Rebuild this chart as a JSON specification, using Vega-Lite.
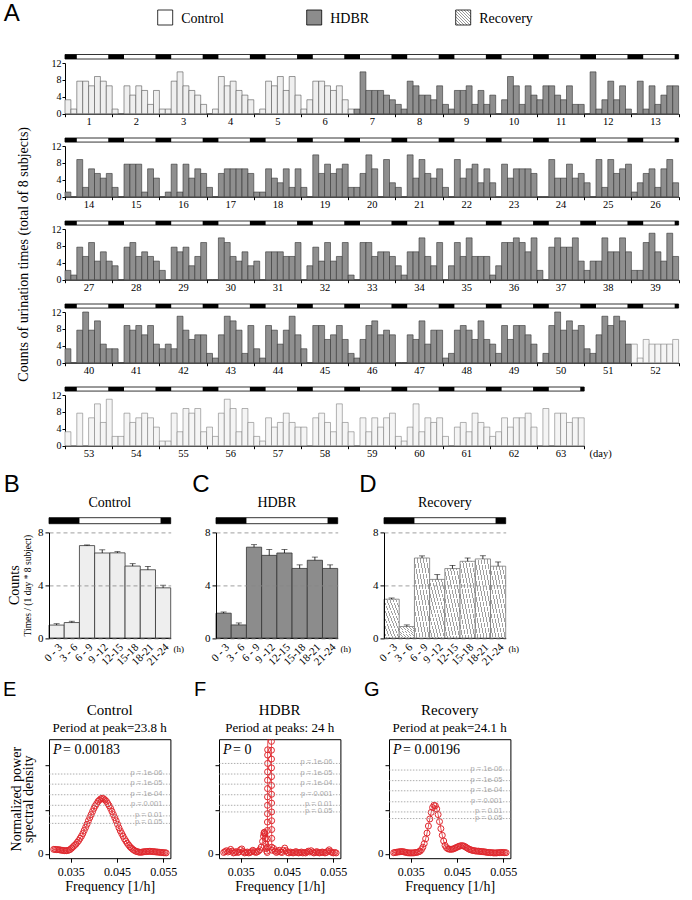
{
"$schema":"https://vega.github.io/schema/vega-lite/v6.json",
"background":"white",
"padding":{"left":3,"top":0,"right":2,"bottom":0},
"config":{"view":{"stroke":null},"font":"Liberation Serif",
"axis":{"labelFont":"Liberation Serif","titleFont":"Liberation Serif","labelColor":"#000","titleColor":"#000","domainColor":"#000","tickColor":"#000","titleFontWeight":"normal","grid":false},
"title":{"font":"Liberation Serif","fontWeight":"normal","color":"#000","subtitleFont":"Liberation Serif","subtitleColor":"#000"},
"text":{"font":"Liberation Serif","color":"#000"}},
"datasets":{
"a":[
{"d":1,"b":1,"v":3.3,"p":"C"},{"d":1,"b":2,"v":1.1,"p":"C"},{"d":1,"b":3,"v":7.7,"p":"C"},{"d":1,"b":4,"v":7.7,"p":"C"},{"d":1,"b":5,"v":6.6,"p":"C"},{"d":1,"b":6,"v":8.8,"p":"C"},{"d":1,"b":7,"v":7.7,"p":"C"},{"d":1,"b":8,"v":6.6,"p":"C"},
{"d":2,"b":1,"v":1.1,"p":"C"},{"d":2,"b":2,"v":0,"p":"C"},{"d":2,"b":3,"v":6.6,"p":"C"},{"d":2,"b":4,"v":4.4,"p":"C"},{"d":2,"b":5,"v":6.6,"p":"C"},{"d":2,"b":6,"v":5.5,"p":"C"},{"d":2,"b":7,"v":2.2,"p":"C"},{"d":2,"b":8,"v":5.5,"p":"C"},
{"d":3,"b":1,"v":1.1,"p":"C"},{"d":3,"b":2,"v":1.1,"p":"C"},{"d":3,"b":3,"v":7.7,"p":"C"},{"d":3,"b":4,"v":9.9,"p":"C"},{"d":3,"b":5,"v":6.6,"p":"C"},{"d":3,"b":6,"v":5.5,"p":"C"},{"d":3,"b":7,"v":4.4,"p":"C"},{"d":3,"b":8,"v":2.2,"p":"C"},
{"d":4,"b":1,"v":0,"p":"C"},{"d":4,"b":2,"v":1.1,"p":"C"},{"d":4,"b":3,"v":8.8,"p":"C"},{"d":4,"b":4,"v":6.6,"p":"C"},{"d":4,"b":5,"v":7.7,"p":"C"},{"d":4,"b":6,"v":5.5,"p":"C"},{"d":4,"b":7,"v":4.4,"p":"C"},{"d":4,"b":8,"v":3.3,"p":"C"},
{"d":5,"b":1,"v":0,"p":"C"},{"d":5,"b":2,"v":1.1,"p":"C"},{"d":5,"b":3,"v":7.7,"p":"C"},{"d":5,"b":4,"v":6.6,"p":"C"},{"d":5,"b":5,"v":8.8,"p":"C"},{"d":5,"b":6,"v":5.5,"p":"C"},{"d":5,"b":7,"v":8.8,"p":"C"},{"d":5,"b":8,"v":4.4,"p":"C"},
{"d":6,"b":1,"v":1.1,"p":"C"},{"d":6,"b":2,"v":3.3,"p":"C"},{"d":6,"b":3,"v":7.7,"p":"C"},{"d":6,"b":4,"v":7.7,"p":"C"},{"d":6,"b":5,"v":6.6,"p":"C"},{"d":6,"b":6,"v":5.5,"p":"C"},{"d":6,"b":7,"v":6.6,"p":"C"},{"d":6,"b":8,"v":3.3,"p":"C"},
{"d":7,"b":1,"v":1.1,"p":"C"},{"d":7,"b":2,"v":1.1,"p":"H"},{"d":7,"b":3,"v":9.9,"p":"H"},{"d":7,"b":4,"v":5.5,"p":"H"},{"d":7,"b":5,"v":5.5,"p":"H"},{"d":7,"b":6,"v":5.5,"p":"H"},{"d":7,"b":7,"v":4.4,"p":"H"},{"d":7,"b":8,"v":3.3,"p":"H"},
{"d":8,"b":1,"v":2.2,"p":"H"},{"d":8,"b":2,"v":1.1,"p":"H"},{"d":8,"b":3,"v":7.7,"p":"H"},{"d":8,"b":4,"v":6.6,"p":"H"},{"d":8,"b":5,"v":4.4,"p":"H"},{"d":8,"b":6,"v":4.4,"p":"H"},{"d":8,"b":7,"v":3.3,"p":"H"},{"d":8,"b":8,"v":6.6,"p":"H"},
{"d":9,"b":1,"v":2.2,"p":"H"},{"d":9,"b":2,"v":1.1,"p":"H"},{"d":9,"b":3,"v":5.5,"p":"H"},{"d":9,"b":4,"v":5.5,"p":"H"},{"d":9,"b":5,"v":6.6,"p":"H"},{"d":9,"b":6,"v":2.2,"p":"H"},{"d":9,"b":7,"v":5.5,"p":"H"},{"d":9,"b":8,"v":2.2,"p":"H"},
{"d":10,"b":1,"v":4.4,"p":"H"},{"d":10,"b":2,"v":0,"p":"H"},{"d":10,"b":3,"v":3.3,"p":"H"},{"d":10,"b":4,"v":8.8,"p":"H"},{"d":10,"b":5,"v":6.6,"p":"H"},{"d":10,"b":6,"v":2.2,"p":"H"},{"d":10,"b":7,"v":6.6,"p":"H"},{"d":10,"b":8,"v":4.4,"p":"H"},
{"d":11,"b":1,"v":3.3,"p":"H"},{"d":11,"b":2,"v":6.6,"p":"H"},{"d":11,"b":3,"v":6.6,"p":"H"},{"d":11,"b":4,"v":4.4,"p":"H"},{"d":11,"b":5,"v":3.3,"p":"H"},{"d":11,"b":6,"v":6.6,"p":"H"},{"d":11,"b":7,"v":2.2,"p":"H"},{"d":11,"b":8,"v":2.2,"p":"H"},
{"d":12,"b":1,"v":0,"p":"H"},{"d":12,"b":2,"v":9.9,"p":"H"},{"d":12,"b":3,"v":1.1,"p":"H"},{"d":12,"b":4,"v":3.3,"p":"H"},{"d":12,"b":5,"v":7.7,"p":"H"},{"d":12,"b":6,"v":3.3,"p":"H"},{"d":12,"b":7,"v":6.6,"p":"H"},{"d":12,"b":8,"v":1.1,"p":"H"},
{"d":13,"b":1,"v":0,"p":"H"},{"d":13,"b":2,"v":7.7,"p":"H"},{"d":13,"b":3,"v":1.1,"p":"H"},{"d":13,"b":4,"v":6.6,"p":"H"},{"d":13,"b":5,"v":2.2,"p":"H"},{"d":13,"b":6,"v":4.4,"p":"H"},{"d":13,"b":7,"v":6.6,"p":"H"},{"d":13,"b":8,"v":6.6,"p":"H"},
{"d":14,"b":1,"v":1.1,"p":"H"},{"d":14,"b":2,"v":0,"p":"H"},{"d":14,"b":3,"v":8.8,"p":"H"},{"d":14,"b":4,"v":2.2,"p":"H"},{"d":14,"b":5,"v":6.6,"p":"H"},{"d":14,"b":6,"v":5.5,"p":"H"},{"d":14,"b":7,"v":4.4,"p":"H"},{"d":14,"b":8,"v":5.5,"p":"H"},
{"d":15,"b":1,"v":2.2,"p":"H"},{"d":15,"b":2,"v":0,"p":"H"},{"d":15,"b":3,"v":7.7,"p":"H"},{"d":15,"b":4,"v":7.7,"p":"H"},{"d":15,"b":5,"v":7.7,"p":"H"},{"d":15,"b":6,"v":1.1,"p":"H"},{"d":15,"b":7,"v":6.6,"p":"H"},{"d":15,"b":8,"v":4.4,"p":"H"},
{"d":16,"b":1,"v":0,"p":"H"},{"d":16,"b":2,"v":1.1,"p":"H"},{"d":16,"b":3,"v":7.7,"p":"H"},{"d":16,"b":4,"v":1.1,"p":"H"},{"d":16,"b":5,"v":7.7,"p":"H"},{"d":16,"b":6,"v":4.4,"p":"H"},{"d":16,"b":7,"v":6.6,"p":"H"},{"d":16,"b":8,"v":5.5,"p":"H"},
{"d":17,"b":1,"v":2.2,"p":"H"},{"d":17,"b":2,"v":0,"p":"H"},{"d":17,"b":3,"v":5.5,"p":"H"},{"d":17,"b":4,"v":6.6,"p":"H"},{"d":17,"b":5,"v":6.6,"p":"H"},{"d":17,"b":6,"v":6.6,"p":"H"},{"d":17,"b":7,"v":6.6,"p":"H"},{"d":17,"b":8,"v":5.5,"p":"H"},
{"d":18,"b":1,"v":1.1,"p":"H"},{"d":18,"b":2,"v":1.1,"p":"H"},{"d":18,"b":3,"v":6.6,"p":"H"},{"d":18,"b":4,"v":4.4,"p":"H"},{"d":18,"b":5,"v":3.3,"p":"H"},{"d":18,"b":6,"v":6.6,"p":"H"},{"d":18,"b":7,"v":2.2,"p":"H"},{"d":18,"b":8,"v":6.6,"p":"H"},
{"d":19,"b":1,"v":2.2,"p":"H"},{"d":19,"b":2,"v":0,"p":"H"},{"d":19,"b":3,"v":9.9,"p":"H"},{"d":19,"b":4,"v":5.5,"p":"H"},{"d":19,"b":5,"v":7.7,"p":"H"},{"d":19,"b":6,"v":5.5,"p":"H"},{"d":19,"b":7,"v":6.6,"p":"H"},{"d":19,"b":8,"v":7.7,"p":"H"},
{"d":20,"b":1,"v":2.2,"p":"H"},{"d":20,"b":2,"v":2.2,"p":"H"},{"d":20,"b":3,"v":5.5,"p":"H"},{"d":20,"b":4,"v":9.9,"p":"H"},{"d":20,"b":5,"v":6.6,"p":"H"},{"d":20,"b":6,"v":0,"p":"H"},{"d":20,"b":7,"v":8.8,"p":"H"},{"d":20,"b":8,"v":3.3,"p":"H"},
{"d":21,"b":1,"v":2.2,"p":"H"},{"d":21,"b":2,"v":0,"p":"H"},{"d":21,"b":3,"v":9.9,"p":"H"},{"d":21,"b":4,"v":4.4,"p":"H"},{"d":21,"b":5,"v":8.8,"p":"H"},{"d":21,"b":6,"v":5.5,"p":"H"},{"d":21,"b":7,"v":4.4,"p":"H"},{"d":21,"b":8,"v":6.6,"p":"H"},
{"d":22,"b":1,"v":2.2,"p":"H"},{"d":22,"b":2,"v":0,"p":"H"},{"d":22,"b":3,"v":8.8,"p":"H"},{"d":22,"b":4,"v":4.4,"p":"H"},{"d":22,"b":5,"v":6.6,"p":"H"},{"d":22,"b":6,"v":7.7,"p":"H"},{"d":22,"b":7,"v":3.3,"p":"H"},{"d":22,"b":8,"v":6.6,"p":"H"},
{"d":23,"b":1,"v":3.3,"p":"H"},{"d":23,"b":2,"v":0,"p":"H"},{"d":23,"b":3,"v":7.7,"p":"H"},{"d":23,"b":4,"v":4.4,"p":"H"},{"d":23,"b":5,"v":6.6,"p":"H"},{"d":23,"b":6,"v":6.6,"p":"H"},{"d":23,"b":7,"v":6.6,"p":"H"},{"d":23,"b":8,"v":5.5,"p":"H"},
{"d":24,"b":1,"v":0,"p":"H"},{"d":24,"b":2,"v":0,"p":"H"},{"d":24,"b":3,"v":8.8,"p":"H"},{"d":24,"b":4,"v":4.4,"p":"H"},{"d":24,"b":5,"v":4.4,"p":"H"},{"d":24,"b":6,"v":7.7,"p":"H"},{"d":24,"b":7,"v":4.4,"p":"H"},{"d":24,"b":8,"v":5.5,"p":"H"},
{"d":25,"b":1,"v":3.3,"p":"H"},{"d":25,"b":2,"v":0,"p":"H"},{"d":25,"b":3,"v":8.8,"p":"H"},{"d":25,"b":4,"v":2.2,"p":"H"},{"d":25,"b":5,"v":8.8,"p":"H"},{"d":25,"b":6,"v":5.5,"p":"H"},{"d":25,"b":7,"v":6.6,"p":"H"},{"d":25,"b":8,"v":7.7,"p":"H"},
{"d":26,"b":1,"v":1.1,"p":"H"},{"d":26,"b":2,"v":3.3,"p":"H"},{"d":26,"b":3,"v":5.5,"p":"H"},{"d":26,"b":4,"v":6.6,"p":"H"},{"d":26,"b":5,"v":2.2,"p":"H"},{"d":26,"b":6,"v":6.6,"p":"H"},{"d":26,"b":7,"v":8.8,"p":"H"},{"d":26,"b":8,"v":3.3,"p":"H"},
{"d":27,"b":1,"v":2.2,"p":"H"},{"d":27,"b":2,"v":1.1,"p":"H"},{"d":27,"b":3,"v":7.7,"p":"H"},{"d":27,"b":4,"v":5.5,"p":"H"},{"d":27,"b":5,"v":8.8,"p":"H"},{"d":27,"b":6,"v":4.4,"p":"H"},{"d":27,"b":7,"v":6.6,"p":"H"},{"d":27,"b":8,"v":4.4,"p":"H"},
{"d":28,"b":1,"v":3.3,"p":"H"},{"d":28,"b":2,"v":0,"p":"H"},{"d":28,"b":3,"v":7.7,"p":"H"},{"d":28,"b":4,"v":8.8,"p":"H"},{"d":28,"b":5,"v":5.5,"p":"H"},{"d":28,"b":6,"v":6.6,"p":"H"},{"d":28,"b":7,"v":5.5,"p":"H"},{"d":28,"b":8,"v":4.4,"p":"H"},
{"d":29,"b":1,"v":2.2,"p":"H"},{"d":29,"b":2,"v":0,"p":"H"},{"d":29,"b":3,"v":7.7,"p":"H"},{"d":29,"b":4,"v":6.6,"p":"H"},{"d":29,"b":5,"v":7.7,"p":"H"},{"d":29,"b":6,"v":3.3,"p":"H"},{"d":29,"b":7,"v":5.5,"p":"H"},{"d":29,"b":8,"v":8.8,"p":"H"},
{"d":30,"b":1,"v":0,"p":"H"},{"d":30,"b":2,"v":0,"p":"H"},{"d":30,"b":3,"v":9.9,"p":"H"},{"d":30,"b":4,"v":8.8,"p":"H"},{"d":30,"b":5,"v":5.5,"p":"H"},{"d":30,"b":6,"v":4.4,"p":"H"},{"d":30,"b":7,"v":6.6,"p":"H"},{"d":30,"b":8,"v":3.3,"p":"H"},
{"d":31,"b":1,"v":4.4,"p":"H"},{"d":31,"b":2,"v":0,"p":"H"},{"d":31,"b":3,"v":6.6,"p":"H"},{"d":31,"b":4,"v":6.6,"p":"H"},{"d":31,"b":5,"v":6.6,"p":"H"},{"d":31,"b":6,"v":5.5,"p":"H"},{"d":31,"b":7,"v":5.5,"p":"H"},{"d":31,"b":8,"v":8.8,"p":"H"},
{"d":32,"b":1,"v":0,"p":"H"},{"d":32,"b":2,"v":3.3,"p":"H"},{"d":32,"b":3,"v":7.7,"p":"H"},{"d":32,"b":4,"v":4.4,"p":"H"},{"d":32,"b":5,"v":8.8,"p":"H"},{"d":32,"b":6,"v":4.4,"p":"H"},{"d":32,"b":7,"v":5.5,"p":"H"},{"d":32,"b":8,"v":8.8,"p":"H"},
{"d":33,"b":1,"v":1.1,"p":"H"},{"d":33,"b":2,"v":0,"p":"H"},{"d":33,"b":3,"v":8.8,"p":"H"},{"d":33,"b":4,"v":8.8,"p":"H"},{"d":33,"b":5,"v":5.5,"p":"H"},{"d":33,"b":6,"v":6.6,"p":"H"},{"d":33,"b":7,"v":6.6,"p":"H"},{"d":33,"b":8,"v":5.5,"p":"H"},
{"d":34,"b":1,"v":3.3,"p":"H"},{"d":34,"b":2,"v":1.1,"p":"H"},{"d":34,"b":3,"v":6.6,"p":"H"},{"d":34,"b":4,"v":6.6,"p":"H"},{"d":34,"b":5,"v":9.9,"p":"H"},{"d":34,"b":6,"v":5.5,"p":"H"},{"d":34,"b":7,"v":3.3,"p":"H"},{"d":34,"b":8,"v":8.8,"p":"H"},
{"d":35,"b":1,"v":0,"p":"H"},{"d":35,"b":2,"v":3.3,"p":"H"},{"d":35,"b":3,"v":8.8,"p":"H"},{"d":35,"b":4,"v":5.5,"p":"H"},{"d":35,"b":5,"v":9.9,"p":"H"},{"d":35,"b":6,"v":5.5,"p":"H"},{"d":35,"b":7,"v":5.5,"p":"H"},{"d":35,"b":8,"v":5.5,"p":"H"},
{"d":36,"b":1,"v":1.1,"p":"H"},{"d":36,"b":2,"v":3.3,"p":"H"},{"d":36,"b":3,"v":8.8,"p":"H"},{"d":36,"b":4,"v":8.8,"p":"H"},{"d":36,"b":5,"v":9.9,"p":"H"},{"d":36,"b":6,"v":8.8,"p":"H"},{"d":36,"b":7,"v":6.6,"p":"H"},{"d":36,"b":8,"v":9.9,"p":"H"},
{"d":37,"b":1,"v":2.2,"p":"H"},{"d":37,"b":2,"v":0,"p":"H"},{"d":37,"b":3,"v":7.7,"p":"H"},{"d":37,"b":4,"v":9.9,"p":"H"},{"d":37,"b":5,"v":7.7,"p":"H"},{"d":37,"b":6,"v":7.7,"p":"H"},{"d":37,"b":7,"v":9.9,"p":"H"},{"d":37,"b":8,"v":4.4,"p":"H"},
{"d":38,"b":1,"v":2.2,"p":"H"},{"d":38,"b":2,"v":4.4,"p":"H"},{"d":38,"b":3,"v":4.4,"p":"H"},{"d":38,"b":4,"v":9.9,"p":"H"},{"d":38,"b":5,"v":6.6,"p":"H"},{"d":38,"b":6,"v":6.6,"p":"H"},{"d":38,"b":7,"v":9.9,"p":"H"},{"d":38,"b":8,"v":6.6,"p":"H"},
{"d":39,"b":1,"v":2.2,"p":"H"},{"d":39,"b":2,"v":2.2,"p":"H"},{"d":39,"b":3,"v":8.8,"p":"H"},{"d":39,"b":4,"v":11,"p":"H"},{"d":39,"b":5,"v":6.6,"p":"H"},{"d":39,"b":6,"v":4.4,"p":"H"},{"d":39,"b":7,"v":11,"p":"H"},{"d":39,"b":8,"v":5.5,"p":"H"},
{"d":40,"b":1,"v":3.3,"p":"H"},{"d":40,"b":2,"v":0,"p":"H"},{"d":40,"b":3,"v":7.7,"p":"H"},{"d":40,"b":4,"v":12,"p":"H"},{"d":40,"b":5,"v":7.7,"p":"H"},{"d":40,"b":6,"v":9.9,"p":"H"},{"d":40,"b":7,"v":4.4,"p":"H"},{"d":40,"b":8,"v":3.3,"p":"H"},
{"d":41,"b":1,"v":3.3,"p":"H"},{"d":41,"b":2,"v":0,"p":"H"},{"d":41,"b":3,"v":8.8,"p":"H"},{"d":41,"b":4,"v":7.7,"p":"H"},{"d":41,"b":5,"v":8.8,"p":"H"},{"d":41,"b":6,"v":6.6,"p":"H"},{"d":41,"b":7,"v":8.8,"p":"H"},{"d":41,"b":8,"v":4.4,"p":"H"},
{"d":42,"b":1,"v":3.3,"p":"H"},{"d":42,"b":2,"v":4.4,"p":"H"},{"d":42,"b":3,"v":3.3,"p":"H"},{"d":42,"b":4,"v":11,"p":"H"},{"d":42,"b":5,"v":7.7,"p":"H"},{"d":42,"b":6,"v":5.5,"p":"H"},{"d":42,"b":7,"v":6.6,"p":"H"},{"d":42,"b":8,"v":6.6,"p":"H"},
{"d":43,"b":1,"v":2.2,"p":"H"},{"d":43,"b":2,"v":1.1,"p":"H"},{"d":43,"b":3,"v":6.6,"p":"H"},{"d":43,"b":4,"v":11,"p":"H"},{"d":43,"b":5,"v":9.9,"p":"H"},{"d":43,"b":6,"v":7.7,"p":"H"},{"d":43,"b":7,"v":2.2,"p":"H"},{"d":43,"b":8,"v":8.8,"p":"H"},
{"d":44,"b":1,"v":3.3,"p":"H"},{"d":44,"b":2,"v":1.1,"p":"H"},{"d":44,"b":3,"v":8.8,"p":"H"},{"d":44,"b":4,"v":7.7,"p":"H"},{"d":44,"b":5,"v":4.4,"p":"H"},{"d":44,"b":6,"v":7.7,"p":"H"},{"d":44,"b":7,"v":11,"p":"H"},{"d":44,"b":8,"v":6.6,"p":"H"},
{"d":45,"b":1,"v":3.3,"p":"H"},{"d":45,"b":2,"v":0,"p":"H"},{"d":45,"b":3,"v":8.8,"p":"H"},{"d":45,"b":4,"v":8.8,"p":"H"},{"d":45,"b":5,"v":5.5,"p":"H"},{"d":45,"b":6,"v":6.6,"p":"H"},{"d":45,"b":7,"v":8.8,"p":"H"},{"d":45,"b":8,"v":5.5,"p":"H"},
{"d":46,"b":1,"v":2.2,"p":"H"},{"d":46,"b":2,"v":1.1,"p":"H"},{"d":46,"b":3,"v":5.5,"p":"H"},{"d":46,"b":4,"v":8.8,"p":"H"},{"d":46,"b":5,"v":9.9,"p":"H"},{"d":46,"b":6,"v":6.6,"p":"H"},{"d":46,"b":7,"v":7.7,"p":"H"},{"d":46,"b":8,"v":6.6,"p":"H"},
{"d":47,"b":1,"v":0,"p":"H"},{"d":47,"b":2,"v":0,"p":"H"},{"d":47,"b":3,"v":6.6,"p":"H"},{"d":47,"b":4,"v":5.5,"p":"H"},{"d":47,"b":5,"v":9.9,"p":"H"},{"d":47,"b":6,"v":4.4,"p":"H"},{"d":47,"b":7,"v":7.7,"p":"H"},{"d":47,"b":8,"v":7.7,"p":"H"},
{"d":48,"b":1,"v":1.1,"p":"H"},{"d":48,"b":2,"v":2.2,"p":"H"},{"d":48,"b":3,"v":7.7,"p":"H"},{"d":48,"b":4,"v":8.8,"p":"H"},{"d":48,"b":5,"v":7.7,"p":"H"},{"d":48,"b":6,"v":5.5,"p":"H"},{"d":48,"b":7,"v":9.9,"p":"H"},{"d":48,"b":8,"v":5.5,"p":"H"},
{"d":49,"b":1,"v":4.4,"p":"H"},{"d":49,"b":2,"v":2.2,"p":"H"},{"d":49,"b":3,"v":8.8,"p":"H"},{"d":49,"b":4,"v":5.5,"p":"H"},{"d":49,"b":5,"v":8.8,"p":"H"},{"d":49,"b":6,"v":8.8,"p":"H"},{"d":49,"b":7,"v":6.6,"p":"H"},{"d":49,"b":8,"v":4.4,"p":"H"},
{"d":50,"b":1,"v":0,"p":"H"},{"d":50,"b":2,"v":2.2,"p":"H"},{"d":50,"b":3,"v":8.8,"p":"H"},{"d":50,"b":4,"v":12,"p":"H"},{"d":50,"b":5,"v":7.7,"p":"H"},{"d":50,"b":6,"v":9.9,"p":"H"},{"d":50,"b":7,"v":7.7,"p":"H"},{"d":50,"b":8,"v":8.8,"p":"H"},
{"d":51,"b":1,"v":3.3,"p":"H"},{"d":51,"b":2,"v":2.2,"p":"H"},{"d":51,"b":3,"v":6.6,"p":"H"},{"d":51,"b":4,"v":11,"p":"H"},{"d":51,"b":5,"v":8.8,"p":"H"},{"d":51,"b":6,"v":11,"p":"H"},{"d":51,"b":7,"v":9.9,"p":"H"},{"d":51,"b":8,"v":4.4,"p":"H"},
{"d":52,"b":1,"v":4.4,"p":"R"},{"d":52,"b":2,"v":1.1,"p":"R"},{"d":52,"b":3,"v":5.5,"p":"R"},{"d":52,"b":4,"v":4.4,"p":"R"},{"d":52,"b":5,"v":4.4,"p":"R"},{"d":52,"b":6,"v":4.4,"p":"R"},{"d":52,"b":7,"v":4.4,"p":"R"},{"d":52,"b":8,"v":5.5,"p":"R"},
{"d":53,"b":1,"v":3.3,"p":"R"},{"d":53,"b":2,"v":0,"p":"R"},{"d":53,"b":3,"v":7.7,"p":"R"},{"d":53,"b":4,"v":0,"p":"R"},{"d":53,"b":5,"v":6.6,"p":"R"},{"d":53,"b":6,"v":9.9,"p":"R"},{"d":53,"b":7,"v":5.5,"p":"R"},{"d":53,"b":8,"v":11,"p":"R"},
{"d":54,"b":1,"v":2.2,"p":"R"},{"d":54,"b":2,"v":2.2,"p":"R"},{"d":54,"b":3,"v":7.7,"p":"R"},{"d":54,"b":4,"v":5.5,"p":"R"},{"d":54,"b":5,"v":6.6,"p":"R"},{"d":54,"b":6,"v":7.7,"p":"R"},{"d":54,"b":7,"v":6.6,"p":"R"},{"d":54,"b":8,"v":4.4,"p":"R"},
{"d":55,"b":1,"v":1.1,"p":"R"},{"d":55,"b":2,"v":1.1,"p":"R"},{"d":55,"b":3,"v":7.7,"p":"R"},{"d":55,"b":4,"v":3.3,"p":"R"},{"d":55,"b":5,"v":8.8,"p":"R"},{"d":55,"b":6,"v":7.7,"p":"R"},{"d":55,"b":7,"v":8.8,"p":"R"},{"d":55,"b":8,"v":3.3,"p":"R"},
{"d":56,"b":1,"v":4.4,"p":"R"},{"d":56,"b":2,"v":2.2,"p":"R"},{"d":56,"b":3,"v":7.7,"p":"R"},{"d":56,"b":4,"v":11,"p":"R"},{"d":56,"b":5,"v":8.8,"p":"R"},{"d":56,"b":6,"v":3.3,"p":"R"},{"d":56,"b":7,"v":8.8,"p":"R"},{"d":56,"b":8,"v":5.5,"p":"R"},
{"d":57,"b":1,"v":2.2,"p":"R"},{"d":57,"b":2,"v":1.1,"p":"R"},{"d":57,"b":3,"v":6.6,"p":"R"},{"d":57,"b":4,"v":4.4,"p":"R"},{"d":57,"b":5,"v":5.5,"p":"R"},{"d":57,"b":6,"v":7.7,"p":"R"},{"d":57,"b":7,"v":5.5,"p":"R"},{"d":57,"b":8,"v":4.4,"p":"R"},
{"d":58,"b":1,"v":4.4,"p":"R"},{"d":58,"b":2,"v":0,"p":"R"},{"d":58,"b":3,"v":6.6,"p":"R"},{"d":58,"b":4,"v":7.7,"p":"R"},{"d":58,"b":5,"v":5.5,"p":"R"},{"d":58,"b":6,"v":3.3,"p":"R"},{"d":58,"b":7,"v":9.9,"p":"R"},{"d":58,"b":8,"v":5.5,"p":"R"},
{"d":59,"b":1,"v":3.3,"p":"R"},{"d":59,"b":2,"v":0,"p":"R"},{"d":59,"b":3,"v":6.6,"p":"R"},{"d":59,"b":4,"v":3.3,"p":"R"},{"d":59,"b":5,"v":6.6,"p":"R"},{"d":59,"b":6,"v":4.4,"p":"R"},{"d":59,"b":7,"v":6.6,"p":"R"},{"d":59,"b":8,"v":7.7,"p":"R"},
{"d":60,"b":1,"v":2.2,"p":"R"},{"d":60,"b":2,"v":1.1,"p":"R"},{"d":60,"b":3,"v":4.4,"p":"R"},{"d":60,"b":4,"v":9.9,"p":"R"},{"d":60,"b":5,"v":3.3,"p":"R"},{"d":60,"b":6,"v":6.6,"p":"R"},{"d":60,"b":7,"v":5.5,"p":"R"},{"d":60,"b":8,"v":6.6,"p":"R"},
{"d":61,"b":1,"v":2.2,"p":"R"},{"d":61,"b":2,"v":0,"p":"R"},{"d":61,"b":3,"v":4.4,"p":"R"},{"d":61,"b":4,"v":5.5,"p":"R"},{"d":61,"b":5,"v":3.3,"p":"R"},{"d":61,"b":6,"v":7.7,"p":"R"},{"d":61,"b":7,"v":5.5,"p":"R"},{"d":61,"b":8,"v":4.4,"p":"R"},
{"d":62,"b":1,"v":2.2,"p":"R"},{"d":62,"b":2,"v":3.3,"p":"R"},{"d":62,"b":3,"v":6.6,"p":"R"},{"d":62,"b":4,"v":4.4,"p":"R"},{"d":62,"b":5,"v":6.6,"p":"R"},{"d":62,"b":6,"v":6.6,"p":"R"},{"d":62,"b":7,"v":7.7,"p":"R"},{"d":62,"b":8,"v":4.4,"p":"R"},
{"d":63,"b":1,"v":0,"p":"R"},{"d":63,"b":2,"v":8.8,"p":"R"},{"d":63,"b":3,"v":0,"p":"R"},{"d":63,"b":4,"v":7.7,"p":"R"},{"d":63,"b":5,"v":7.7,"p":"R"},{"d":63,"b":6,"v":5.5,"p":"R"},{"d":63,"b":7,"v":6.6,"p":"R"},{"d":63,"b":8,"v":6.6,"p":"R"}
],
"ld13":[{"s":0,"e":312,"c":"L"},{"s":0,"e":6,"c":"D"},{"s":22,"e":30,"c":"D"},{"s":46,"e":54,"c":"D"},{"s":70,"e":78,"c":"D"},{"s":94,"e":102,"c":"D"},{"s":118,"e":126,"c":"D"},{"s":142,"e":150,"c":"D"},{"s":166,"e":174,"c":"D"},{"s":190,"e":198,"c":"D"},{"s":214,"e":222,"c":"D"},{"s":238,"e":246,"c":"D"},{"s":262,"e":270,"c":"D"},{"s":286,"e":294,"c":"D"},{"s":310,"e":312,"c":"D"}],
"ld11":[{"s":0,"e":264,"c":"L"},{"s":0,"e":6,"c":"D"},{"s":22,"e":30,"c":"D"},{"s":46,"e":54,"c":"D"},{"s":70,"e":78,"c":"D"},{"s":94,"e":102,"c":"D"},{"s":118,"e":126,"c":"D"},{"s":142,"e":150,"c":"D"},{"s":166,"e":174,"c":"D"},{"s":190,"e":198,"c":"D"},{"s":214,"e":222,"c":"D"},{"s":238,"e":246,"c":"D"},{"s":262,"e":264,"c":"D"}],
"ldb":[{"s":0,"e":24,"c":"L"},{"s":0,"e":6,"c":"D"},{"s":22,"e":24,"c":"D"}],
"bcd":[
{"g":"Control","t":"0 - 3","v":0.98,"hi":1.08},{"g":"Control","t":"3 - 6","v":1.17,"hi":1.27},{"g":"Control","t":"6 - 9","v":7.0,"hi":7.05},{"g":"Control","t":"9 -12","v":6.44,"hi":6.68},{"g":"Control","t":"12-15","v":6.45,"hi":6.54},{"g":"Control","t":"15-18","v":5.45,"hi":5.63},{"g":"Control","t":"18-21","v":5.17,"hi":5.42},{"g":"Control","t":"21-24","v":3.8,"hi":4.0},
{"g":"HDBR","t":"0 - 3","v":1.88,"hi":1.97},{"g":"HDBR","t":"3 - 6","v":0.99,"hi":1.14},{"g":"HDBR","t":"6 - 9","v":6.88,"hi":7.07},{"g":"HDBR","t":"9 -12","v":6.26,"hi":6.7},{"g":"HDBR","t":"12-15","v":6.44,"hi":6.7},{"g":"HDBR","t":"15-18","v":5.27,"hi":5.54},{"g":"HDBR","t":"18-21","v":5.89,"hi":6.13},{"g":"HDBR","t":"21-24","v":5.27,"hi":5.54},
{"g":"Recovery","t":"0 - 3","v":2.94,"hi":3.03},{"g":"Recovery","t":"3 - 6","v":0.87,"hi":0.99},{"g":"Recovery","t":"6 - 9","v":6.06,"hi":6.22},{"g":"Recovery","t":"9 -12","v":4.44,"hi":4.8},{"g":"Recovery","t":"12-15","v":5.26,"hi":5.5},{"g":"Recovery","t":"15-18","v":5.81,"hi":6.06},{"g":"Recovery","t":"18-21","v":5.99,"hi":6.23},{"g":"Recovery","t":"21-24","v":5.44,"hi":5.76}
],
"pl":[
{"g":"E","y":18.1,"lab":"p = 1e-06"},{"g":"E","y":15.8,"lab":"p = 1e-05"},{"g":"E","y":13.4,"lab":"p = 1e-04"},{"g":"E","y":11.0,"lab":"p = 0.001"},{"g":"E","y":8.6,"lab":"p = 0.01"},{"g":"E","y":6.9,"lab":"p = 0.05"},
{"g":"F","y":20.5,"lab":"p = 1e-06"},{"g":"F","y":18.1,"lab":"p = 1e-05"},{"g":"F","y":15.8,"lab":"p = 1e-04"},{"g":"F","y":13.4,"lab":"p = 0.001"},{"g":"F","y":11.0,"lab":"p = 0.01"},{"g":"F","y":9.5,"lab":"p = 0.05"},
{"g":"G","y":19.0,"lab":"p = 1e-06"},{"g":"G","y":16.6,"lab":"p = 1e-05"},{"g":"G","y":14.3,"lab":"p = 1e-04"},{"g":"G","y":11.8,"lab":"p = 0.001"},{"g":"G","y":9.5,"lab":"p = 0.01"},{"g":"G","y":8.0,"lab":"p = 0.05"}
],
"psd":[
{"g":"E","f":0.0313,"v":1.0},{"g":"E","f":0.0316,"v":1.0},{"g":"E","f":0.0319,"v":0.95},{"g":"E","f":0.0322,"v":0.95},{"g":"E","f":0.0325,"v":0.9},{"g":"E","f":0.0328,"v":0.85},{"g":"E","f":0.0331,"v":0.8},{"g":"E","f":0.0334,"v":0.75},{"g":"E","f":0.0337,"v":0.7},{"g":"E","f":0.0340,"v":0.7},{"g":"E","f":0.0343,"v":0.75},{"g":"E","f":0.0346,"v":0.85},{"g":"E","f":0.0349,"v":1.0},{"g":"E","f":0.0352,"v":1.3},{"g":"E","f":0.0355,"v":1.6},{"g":"E","f":0.0358,"v":1.9},{"g":"E","f":0.0361,"v":2.2},{"g":"E","f":0.0364,"v":2.6},{"g":"E","f":0.0367,"v":3.0},{"g":"E","f":0.0370,"v":3.5},{"g":"E","f":0.0373,"v":4.0},{"g":"E","f":0.0376,"v":4.6},{"g":"E","f":0.0379,"v":5.3},{"g":"E","f":0.0382,"v":6.0},{"g":"E","f":0.0385,"v":6.7},{"g":"E","f":0.0388,"v":7.5},{"g":"E","f":0.0391,"v":8.2},{"g":"E","f":0.0394,"v":8.9},{"g":"E","f":0.0397,"v":9.6},{"g":"E","f":0.0400,"v":10.3},{"g":"E","f":0.0403,"v":10.9},{"g":"E","f":0.0406,"v":11.4},{"g":"E","f":0.0409,"v":11.9},{"g":"E","f":0.0412,"v":12.2},{"g":"E","f":0.0415,"v":12.5},{"g":"E","f":0.0418,"v":12.6},{"g":"E","f":0.0421,"v":12.5},{"g":"E","f":0.0424,"v":12.2},{"g":"E","f":0.0427,"v":11.9},{"g":"E","f":0.0430,"v":11.4},{"g":"E","f":0.0433,"v":10.9},{"g":"E","f":0.0436,"v":10.3},{"g":"E","f":0.0439,"v":9.6},{"g":"E","f":0.0442,"v":8.9},{"g":"E","f":0.0445,"v":8.2},{"g":"E","f":0.0448,"v":7.5},{"g":"E","f":0.0451,"v":6.7},{"g":"E","f":0.0454,"v":5.9},{"g":"E","f":0.0457,"v":5.2},{"g":"E","f":0.0460,"v":4.6},{"g":"E","f":0.0463,"v":4.0},{"g":"E","f":0.0466,"v":3.4},{"g":"E","f":0.0469,"v":2.9},{"g":"E","f":0.0472,"v":2.4},{"g":"E","f":0.0475,"v":2.0},{"g":"E","f":0.0478,"v":1.6},{"g":"E","f":0.0481,"v":1.3},{"g":"E","f":0.0484,"v":1.0},{"g":"E","f":0.0487,"v":0.8},{"g":"E","f":0.0490,"v":0.6},{"g":"E","f":0.0493,"v":0.5},{"g":"E","f":0.0496,"v":0.4},{"g":"E","f":0.0499,"v":0.35},{"g":"E","f":0.0502,"v":0.35},{"g":"E","f":0.0505,"v":0.4},{"g":"E","f":0.0508,"v":0.45},{"g":"E","f":0.0511,"v":0.5},{"g":"E","f":0.0514,"v":0.5},{"g":"E","f":0.0517,"v":0.55},{"g":"E","f":0.0520,"v":0.55},{"g":"E","f":0.0523,"v":0.55},{"g":"E","f":0.0526,"v":0.5},{"g":"E","f":0.0529,"v":0.5},{"g":"E","f":0.0532,"v":0.45},{"g":"E","f":0.0535,"v":0.4},{"g":"E","f":0.0538,"v":0.4},{"g":"E","f":0.0541,"v":0.35},{"g":"E","f":0.0544,"v":0.3},{"g":"E","f":0.0547,"v":0.3},{"g":"E","f":0.0550,"v":0.25},{"g":"E","f":0.0553,"v":0.25},{"g":"E","f":0.0556,"v":0.2},
{"g":"F","f":0.0313,"v":0.3},{"g":"F","f":0.0316,"v":0.5},{"g":"F","f":0.0319,"v":0.7},{"g":"F","f":0.0322,"v":0.4},{"g":"F","f":0.0325,"v":0.6},{"g":"F","f":0.0328,"v":1.0},{"g":"F","f":0.0331,"v":0.6},{"g":"F","f":0.0334,"v":0.2},{"g":"F","f":0.0337,"v":0.3},{"g":"F","f":0.0340,"v":0.5},{"g":"F","f":0.0343,"v":0.3},{"g":"F","f":0.0346,"v":0.4},{"g":"F","f":0.0349,"v":0.9},{"g":"F","f":0.0352,"v":1.1},{"g":"F","f":0.0355,"v":0.5},{"g":"F","f":0.0358,"v":0.2},{"g":"F","f":0.0361,"v":0.3},{"g":"F","f":0.0364,"v":0.4},{"g":"F","f":0.0367,"v":0.2},{"g":"F","f":0.0370,"v":0.3},{"g":"F","f":0.0373,"v":0.5},{"g":"F","f":0.0376,"v":0.8},{"g":"F","f":0.0379,"v":0.5},{"g":"F","f":0.0382,"v":0.3},{"g":"F","f":0.0385,"v":0.4},{"g":"F","f":0.0388,"v":0.6},{"g":"F","f":0.0391,"v":0.9},{"g":"F","f":0.0394,"v":1.5},{"g":"F","f":0.0397,"v":2.8},{"g":"F","f":0.0399,"v":4.0},{"g":"F","f":0.0400,"v":4.7},{"g":"F","f":0.0401,"v":4.9},{"g":"F","f":0.0402,"v":4.5},{"g":"F","f":0.0403,"v":3.5},{"g":"F","f":0.0404,"v":2.2},{"g":"F","f":0.0405,"v":1.2},{"g":"F","f":0.0406,"v":0.6},{"g":"F","f":0.0407,"v":0.3},
{"g":"F","f":0.040740,"v":1.5},{"g":"F","f":0.040745,"v":3.4},{"g":"F","f":0.040750,"v":5.3},{"g":"F","f":0.040755,"v":7.2},{"g":"F","f":0.040760,"v":9.1},{"g":"F","f":0.040765,"v":11.0},{"g":"F","f":0.040770,"v":12.9},{"g":"F","f":0.040775,"v":14.8},{"g":"F","f":0.040780,"v":16.7},{"g":"F","f":0.040785,"v":18.6},{"g":"F","f":0.040790,"v":20.5},{"g":"F","f":0.040795,"v":22.4},{"g":"F","f":0.040800,"v":23.6},{"g":"F","f":0.04120,"v":48},
{"g":"F","f":0.041620,"v":25.5},{"g":"F","f":0.041625,"v":23.5},{"g":"F","f":0.041630,"v":21.5},{"g":"F","f":0.041635,"v":19.5},{"g":"F","f":0.041640,"v":17.5},{"g":"F","f":0.041645,"v":15.5},{"g":"F","f":0.041650,"v":13.5},{"g":"F","f":0.041655,"v":11.5},{"g":"F","f":0.041660,"v":9.5},{"g":"F","f":0.041665,"v":7.5},{"g":"F","f":0.041670,"v":5.5},{"g":"F","f":0.041675,"v":3.5},{"g":"F","f":0.041680,"v":1.5},
{"g":"F","f":0.0418,"v":0.8},{"g":"F","f":0.0421,"v":1.2},{"g":"F","f":0.0424,"v":0.6},{"g":"F","f":0.0427,"v":0.3},{"g":"F","f":0.0430,"v":0.5},{"g":"F","f":0.0433,"v":0.8},{"g":"F","f":0.0436,"v":0.4},{"g":"F","f":0.0439,"v":0.3},{"g":"F","f":0.0442,"v":0.8},{"g":"F","f":0.0445,"v":1.3},{"g":"F","f":0.0448,"v":0.7},{"g":"F","f":0.0451,"v":0.3},{"g":"F","f":0.0454,"v":0.2},{"g":"F","f":0.0457,"v":0.4},{"g":"F","f":0.0460,"v":0.3},{"g":"F","f":0.0463,"v":0.2},{"g":"F","f":0.0466,"v":0.3},{"g":"F","f":0.0469,"v":0.5},{"g":"F","f":0.0472,"v":0.3},{"g":"F","f":0.0475,"v":0.2},{"g":"F","f":0.0478,"v":0.3},{"g":"F","f":0.0481,"v":0.4},{"g":"F","f":0.0484,"v":0.2},{"g":"F","f":0.0487,"v":0.3},{"g":"F","f":0.0490,"v":0.2},{"g":"F","f":0.0493,"v":0.4},{"g":"F","f":0.0496,"v":0.6},{"g":"F","f":0.0499,"v":0.4},{"g":"F","f":0.0502,"v":0.7},{"g":"F","f":0.0505,"v":0.4},{"g":"F","f":0.0508,"v":0.2},{"g":"F","f":0.0511,"v":0.3},{"g":"F","f":0.0514,"v":0.5},{"g":"F","f":0.0517,"v":0.3},{"g":"F","f":0.0520,"v":0.2},{"g":"F","f":0.0523,"v":0.3},{"g":"F","f":0.0526,"v":0.4},{"g":"F","f":0.0529,"v":0.3},{"g":"F","f":0.0532,"v":0.2},{"g":"F","f":0.0535,"v":0.3},{"g":"F","f":0.0538,"v":0.6},{"g":"F","f":0.0541,"v":0.9},{"g":"F","f":0.0544,"v":0.5},{"g":"F","f":0.0547,"v":0.3},{"g":"F","f":0.0550,"v":0.2},{"g":"F","f":0.0553,"v":0.3},{"g":"F","f":0.0556,"v":0.2},
{"g":"G","f":0.0313,"v":0.25},{"g":"G","f":0.0316,"v":0.3},{"g":"G","f":0.0319,"v":0.35},{"g":"G","f":0.0322,"v":0.4},{"g":"G","f":0.0325,"v":0.45},{"g":"G","f":0.0328,"v":0.5},{"g":"G","f":0.0331,"v":0.5},{"g":"G","f":0.0334,"v":0.45},{"g":"G","f":0.0337,"v":0.4},{"g":"G","f":0.0340,"v":0.3},{"g":"G","f":0.0343,"v":0.25},{"g":"G","f":0.0346,"v":0.2},{"g":"G","f":0.0349,"v":0.2},{"g":"G","f":0.0352,"v":0.2},{"g":"G","f":0.0355,"v":0.2},{"g":"G","f":0.0358,"v":0.25},{"g":"G","f":0.0361,"v":0.3},{"g":"G","f":0.0364,"v":0.35},{"g":"G","f":0.0367,"v":0.45},{"g":"G","f":0.0370,"v":0.6},{"g":"G","f":0.0373,"v":0.95},{"g":"G","f":0.0376,"v":1.5},{"g":"G","f":0.0379,"v":2.3},{"g":"G","f":0.0382,"v":3.4},{"g":"G","f":0.0385,"v":4.7},{"g":"G","f":0.0388,"v":6.3},{"g":"G","f":0.0391,"v":7.9},{"g":"G","f":0.0394,"v":9.4},{"g":"G","f":0.0397,"v":10.5},{"g":"G","f":0.0400,"v":11.0},{"g":"G","f":0.0403,"v":10.9},{"g":"G","f":0.0406,"v":10.2},{"g":"G","f":0.0409,"v":8.9},{"g":"G","f":0.0412,"v":7.3},{"g":"G","f":0.0415,"v":5.7},{"g":"G","f":0.0418,"v":4.2},{"g":"G","f":0.0421,"v":2.9},{"g":"G","f":0.0424,"v":1.9},{"g":"G","f":0.0427,"v":1.4},{"g":"G","f":0.0430,"v":1.15},{"g":"G","f":0.0433,"v":1.05},{"g":"G","f":0.0436,"v":1.0},{"g":"G","f":0.0439,"v":1.05},{"g":"G","f":0.0442,"v":1.1},{"g":"G","f":0.0445,"v":1.25},{"g":"G","f":0.0448,"v":1.4},{"g":"G","f":0.0451,"v":1.55},{"g":"G","f":0.0454,"v":1.7},{"g":"G","f":0.0457,"v":1.8},{"g":"G","f":0.0460,"v":1.85},{"g":"G","f":0.0463,"v":1.8},{"g":"G","f":0.0466,"v":1.7},{"g":"G","f":0.0469,"v":1.5},{"g":"G","f":0.0472,"v":1.3},{"g":"G","f":0.0475,"v":1.1},{"g":"G","f":0.0478,"v":0.95},{"g":"G","f":0.0481,"v":0.85},{"g":"G","f":0.0484,"v":0.75},{"g":"G","f":0.0487,"v":0.7},{"g":"G","f":0.0490,"v":0.65},{"g":"G","f":0.0493,"v":0.6},{"g":"G","f":0.0496,"v":0.6},{"g":"G","f":0.0499,"v":0.55},{"g":"G","f":0.0502,"v":0.5},{"g":"G","f":0.0505,"v":0.5},{"g":"G","f":0.0508,"v":0.45},{"g":"G","f":0.0511,"v":0.4},{"g":"G","f":0.0514,"v":0.35},{"g":"G","f":0.0517,"v":0.3},{"g":"G","f":0.0520,"v":0.3},{"g":"G","f":0.0523,"v":0.25},{"g":"G","f":0.0526,"v":0.25},{"g":"G","f":0.0529,"v":0.2},{"g":"G","f":0.0532,"v":0.2},{"g":"G","f":0.0535,"v":0.2},{"g":"G","f":0.0538,"v":0.25},{"g":"G","f":0.0541,"v":0.25},{"g":"G","f":0.0544,"v":0.3},{"g":"G","f":0.0547,"v":0.3},{"g":"G","f":0.0550,"v":0.3},{"g":"G","f":0.0553,"v":0.25},{"g":"G","f":0.0556,"v":0.25}
]
},
"spacing":12.7,
"resolve":{"scale":{"fill":"independent","stroke":"independent","x":"independent","y":"independent"}},
"vconcat":[
{
"bounds":"flush","spacing":15,
"resolve":{"scale":{"fill":"independent","stroke":"independent","x":"independent","y":"independent"}},
"hconcat":[
{"width":1,"height":1,"data":{"values":[{}]},"mark":{"type":"point","size":0,"opacity":0}},
{
"title":{"text":"A","anchor":"start","frame":"group","dx":-61.3,"offset":-44.5,"baseline":"alphabetic","font":"Liberation Sans","fontSize":24},
"bounds":"flush","spacing":0,
"resolve":{"scale":{"fill":"independent","stroke":"independent","x":"independent","y":"independent"}},
"vconcat":[
{"width":498.4,"height":35,
"data":{"values":[{"k":"Control"},{"k":"HDBR"},{"k":"Recovery"}]},
"encoding":{"x":{"field":"k","type":"nominal","scale":{"type":"point","padding":0.6725,"domain":["Control","HDBR","Recovery"]},"axis":null}},
"layer":[
{"transform":[{"filter":"datum.k!='Recovery'"}],"mark":{"type":"point","shape":"square","size":225,"filled":true,"opacity":1,"stroke":"#000","strokeWidth":0.8},
"encoding":{"fill":{"field":"k","type":"nominal","scale":{"domain":["Control","HDBR"],"range":["#ffffff","#8c8c8c"]},"legend":null}}},
{"transform":[{"filter":"datum.k=='Recovery'"}],"mark":{"type":"point","shape":"square","size":225,"filled":true,"opacity":1,"stroke":"#000","strokeWidth":0.8,
"fill":{"gradient":"linear","x1":0,"y1":1,"x2":1,"y2":0,"stops":[{"offset":0,"color":"#ffffff"},{"offset":0.07,"color":"#ffffff"},{"offset":0.07,"color":"#999999"},{"offset":0.1,"color":"#999999"},{"offset":0.1,"color":"#ffffff"},{"offset":0.17,"color":"#ffffff"},{"offset":0.17,"color":"#999999"},{"offset":0.2,"color":"#999999"},{"offset":0.2,"color":"#ffffff"},{"offset":0.27,"color":"#ffffff"},{"offset":0.27,"color":"#999999"},{"offset":0.3,"color":"#999999"},{"offset":0.3,"color":"#ffffff"},{"offset":0.37,"color":"#ffffff"},{"offset":0.37,"color":"#999999"},{"offset":0.4,"color":"#999999"},{"offset":0.4,"color":"#ffffff"},{"offset":0.47,"color":"#ffffff"},{"offset":0.47,"color":"#999999"},{"offset":0.5,"color":"#999999"},{"offset":0.5,"color":"#ffffff"},{"offset":0.57,"color":"#ffffff"},{"offset":0.57,"color":"#999999"},{"offset":0.6,"color":"#999999"},{"offset":0.6,"color":"#ffffff"},{"offset":0.67,"color":"#ffffff"},{"offset":0.67,"color":"#999999"},{"offset":0.7,"color":"#999999"},{"offset":0.7,"color":"#ffffff"},{"offset":0.77,"color":"#ffffff"},{"offset":0.77,"color":"#999999"},{"offset":0.8,"color":"#999999"},{"offset":0.8,"color":"#ffffff"},{"offset":0.87,"color":"#ffffff"},{"offset":0.87,"color":"#999999"},{"offset":0.9,"color":"#999999"},{"offset":0.9,"color":"#ffffff"},{"offset":1,"color":"#ffffff"}]}},
"encoding":{}},
{"mark":{"type":"text","align":"left","baseline":"middle","dx":16,"dy":1,"fontSize":14},"encoding":{"text":{"field":"k"}}}
]},
{"width":613.6,"height":28,"data":{"name":"ld13"},
"layer":[
{"transform":[{"filter":"datum.c=='L'"}],"mark":{"type":"rect","fill":"#fff","stroke":"#000","strokeWidth":0.8},"encoding":{"x":{"field":"s","type":"quantitative","scale":{"domain":[0,312],"nice":false,"zero":false},"axis":null},"x2":{"field":"e"},"y":{"datum":4,"type":"quantitative","scale":{"domain":[0,28]},"axis":null},"y2":{"datum":8.5}}},
{"transform":[{"filter":"datum.c=='D'"}],"mark":{"type":"rect","fill":"#000"},"encoding":{"x":{"field":"s","type":"quantitative"},"x2":{"field":"e"},"y":{"datum":4,"type":"quantitative"},"y2":{"datum":8.5}}}
]},
{"width":613.6,"height":50.7,"data":{"name":"a"},"transform":[{"filter":{"field":"d","range":[1,13]}}],
"mark":{"type":"bar","strokeWidth":0.6},
"encoding":{
"x":{"field":"d","type":"ordinal","scale":{"paddingInner":0,"paddingOuter":0},"axis":{"title":null,"labelAngle":0,"tickBand":"extent","tickSize":3,"labelPadding":0,"labelFontSize":10.5}},
"xOffset":{"field":"b","type":"ordinal","scale":{"paddingInner":0,"paddingOuter":0}},
"y":{"field":"v","type":"quantitative","scale":{"domain":[0,12],"nice":false},"axis":{"values":[0,4,8,12],"title":null,"tickSize":3,"labelPadding":1,"labelFontSize":10}},
"fill":{"field":"p","type":"nominal","scale":{"domain":["C","H","R"],"range":["#efefef","#8f8f8f","#f5f5f5"]},"legend":null},
"stroke":{"field":"p","type":"nominal","scale":{"domain":["C","H","R"],"range":["#555555","#333333","#808080"]},"legend":null}}},
{"width":613.6,"height":31.7,"data":{"name":"ld13"},
"layer":[
{"transform":[{"filter":"datum.c=='L'"}],"mark":{"type":"rect","fill":"#fff","stroke":"#000","strokeWidth":0.8},"encoding":{"x":{"field":"s","type":"quantitative","scale":{"domain":[0,312],"nice":false,"zero":false},"axis":null},"x2":{"field":"e"},"y":{"datum":4,"type":"quantitative","scale":{"domain":[0,31.7]},"axis":null},"y2":{"datum":8.5}}},
{"transform":[{"filter":"datum.c=='D'"}],"mark":{"type":"rect","fill":"#000"},"encoding":{"x":{"field":"s","type":"quantitative"},"x2":{"field":"e"},"y":{"datum":4,"type":"quantitative"},"y2":{"datum":8.5}}}
]},
{"width":613.6,"height":50.7,"data":{"name":"a"},"transform":[{"filter":{"field":"d","range":[14,26]}}],
"mark":{"type":"bar","strokeWidth":0.6},
"encoding":{
"x":{"field":"d","type":"ordinal","scale":{"paddingInner":0,"paddingOuter":0},"axis":{"title":null,"labelAngle":0,"tickBand":"extent","tickSize":3,"labelPadding":0,"labelFontSize":10.5}},
"xOffset":{"field":"b","type":"ordinal","scale":{"paddingInner":0,"paddingOuter":0}},
"y":{"field":"v","type":"quantitative","scale":{"domain":[0,12],"nice":false},"axis":{"values":[0,4,8,12],"title":null,"tickSize":3,"labelPadding":1,"labelFontSize":10}},
"fill":{"field":"p","type":"nominal","scale":{"domain":["C","H","R"],"range":["#efefef","#8f8f8f","#f5f5f5"]},"legend":null},
"stroke":{"field":"p","type":"nominal","scale":{"domain":["C","H","R"],"range":["#555555","#333333","#808080"]},"legend":null}}},
{"width":613.6,"height":31.7,"data":{"name":"ld13"},
"layer":[
{"transform":[{"filter":"datum.c=='L'"}],"mark":{"type":"rect","fill":"#fff","stroke":"#000","strokeWidth":0.8},"encoding":{"x":{"field":"s","type":"quantitative","scale":{"domain":[0,312],"nice":false,"zero":false},"axis":null},"x2":{"field":"e"},"y":{"datum":4,"type":"quantitative","scale":{"domain":[0,31.7]},"axis":null},"y2":{"datum":8.5}}},
{"transform":[{"filter":"datum.c=='D'"}],"mark":{"type":"rect","fill":"#000"},"encoding":{"x":{"field":"s","type":"quantitative"},"x2":{"field":"e"},"y":{"datum":4,"type":"quantitative"},"y2":{"datum":8.5}}}
]},
{"width":613.6,"height":50.7,"data":{"name":"a"},"transform":[{"filter":{"field":"d","range":[27,39]}}],
"title":{"text":"Counts of urination times (total of 8 subjects)","orient":"left","anchor":"middle","frame":"group","fontSize":14,"offset":20},
"mark":{"type":"bar","strokeWidth":0.6},
"encoding":{
"x":{"field":"d","type":"ordinal","scale":{"paddingInner":0,"paddingOuter":0},"axis":{"title":null,"labelAngle":0,"tickBand":"extent","tickSize":3,"labelPadding":0,"labelFontSize":10.5}},
"xOffset":{"field":"b","type":"ordinal","scale":{"paddingInner":0,"paddingOuter":0}},
"y":{"field":"v","type":"quantitative","scale":{"domain":[0,12],"nice":false},"axis":{"values":[0,4,8,12],"title":null,"tickSize":3,"labelPadding":1,"labelFontSize":10}},
"fill":{"field":"p","type":"nominal","scale":{"domain":["C","H","R"],"range":["#efefef","#8f8f8f","#f5f5f5"]},"legend":null},
"stroke":{"field":"p","type":"nominal","scale":{"domain":["C","H","R"],"range":["#555555","#333333","#808080"]},"legend":null}}},
{"width":613.6,"height":31.7,"data":{"name":"ld13"},
"layer":[
{"transform":[{"filter":"datum.c=='L'"}],"mark":{"type":"rect","fill":"#fff","stroke":"#000","strokeWidth":0.8},"encoding":{"x":{"field":"s","type":"quantitative","scale":{"domain":[0,312],"nice":false,"zero":false},"axis":null},"x2":{"field":"e"},"y":{"datum":4,"type":"quantitative","scale":{"domain":[0,31.7]},"axis":null},"y2":{"datum":8.5}}},
{"transform":[{"filter":"datum.c=='D'"}],"mark":{"type":"rect","fill":"#000"},"encoding":{"x":{"field":"s","type":"quantitative"},"x2":{"field":"e"},"y":{"datum":4,"type":"quantitative"},"y2":{"datum":8.5}}}
]},
{"width":613.6,"height":50.7,"data":{"name":"a"},"transform":[{"filter":{"field":"d","range":[40,52]}}],
"mark":{"type":"bar","strokeWidth":0.6},
"encoding":{
"x":{"field":"d","type":"ordinal","scale":{"paddingInner":0,"paddingOuter":0},"axis":{"title":null,"labelAngle":0,"tickBand":"extent","tickSize":3,"labelPadding":0,"labelFontSize":10.5}},
"xOffset":{"field":"b","type":"ordinal","scale":{"paddingInner":0,"paddingOuter":0}},
"y":{"field":"v","type":"quantitative","scale":{"domain":[0,12],"nice":false},"axis":{"values":[0,4,8,12],"title":null,"tickSize":3,"labelPadding":1,"labelFontSize":10}},
"fill":{"field":"p","type":"nominal","scale":{"domain":["C","H","R"],"range":["#efefef","#8f8f8f","#f5f5f5"]},"legend":null},
"stroke":{"field":"p","type":"nominal","scale":{"domain":["C","H","R"],"range":["#555555","#333333","#808080"]},"legend":null}}},
{"width":519.2,"height":31.7,"data":{"name":"ld11"},
"layer":[
{"transform":[{"filter":"datum.c=='L'"}],"mark":{"type":"rect","fill":"#fff","stroke":"#000","strokeWidth":0.8},"encoding":{"x":{"field":"s","type":"quantitative","scale":{"domain":[0,264],"nice":false,"zero":false},"axis":null},"x2":{"field":"e"},"y":{"datum":4,"type":"quantitative","scale":{"domain":[0,31.7]},"axis":null},"y2":{"datum":8.5}}},
{"transform":[{"filter":"datum.c=='D'"}],"mark":{"type":"rect","fill":"#000"},"encoding":{"x":{"field":"s","type":"quantitative"},"x2":{"field":"e"},"y":{"datum":4,"type":"quantitative"},"y2":{"datum":8.5}}}
]},
{"width":519.2,"height":50.7,"data":{"name":"a"},"transform":[{"filter":{"field":"d","range":[53,63]}}],
"mark":{"type":"bar","strokeWidth":0.6},
"encoding":{
"x":{"field":"d","type":"ordinal","scale":{"paddingInner":0,"paddingOuter":0},"axis":{"title":"(day)","titleX":524,"titleY":8,"titleAlign":"left","titleBaseline":"middle","titleFontSize":10.5,"labelAngle":0,"tickBand":"extent","tickSize":3,"labelPadding":0,"labelFontSize":10.5}},
"xOffset":{"field":"b","type":"ordinal","scale":{"paddingInner":0,"paddingOuter":0}},
"y":{"field":"v","type":"quantitative","scale":{"domain":[0,12],"nice":false},"axis":{"values":[0,4,8,12],"title":null,"tickSize":3,"labelPadding":1,"labelFontSize":10}},
"fill":{"field":"p","type":"nominal","scale":{"domain":["C","H","R"],"range":["#efefef","#8f8f8f","#f5f5f5"]},"legend":null},
"stroke":{"field":"p","type":"nominal","scale":{"domain":["C","H","R"],"range":["#555555","#333333","#808080"]},"legend":null}}}
]
}
]
},
{
"spacing":11.5,
"resolve":{"scale":{"fill":"independent","stroke":"independent","x":"independent","y":"independent"}},
"vconcat":[
{
"spacing":8,
"hconcat":[
{"title":{"text":"B","anchor":"start","frame":"group","dx":-45.3,"font":"Liberation Sans","fontSize":24,"offset":-25,"baseline":"bottom"},
"bounds":"flush","spacing":8.7,
"vconcat":[
{"width":121.7,"height":6,"data":{"name":"ldb"},"title":{"text":"Control","frame":"group","anchor":"middle","fontSize":14,"offset":7},
"layer":[
{"transform":[{"filter":"datum.c=='L'"}],"mark":{"type":"rect","fill":"#fff","stroke":"#000","strokeWidth":0.8},"encoding":{"x":{"field":"s","type":"quantitative","scale":{"domain":[0,24],"nice":false,"zero":false},"axis":null},"x2":{"field":"e"}}},
{"transform":[{"filter":"datum.c=='D'"}],"mark":{"type":"rect","fill":"#000"},"encoding":{"x":{"field":"s","type":"quantitative"},"x2":{"field":"e"}}}
]},
{"width":121.7,"height":105.6,"data":{"name":"bcd"},"transform":[{"filter":"datum.g=='Control'"}],
"title":{"text":"Counts","orient":"left","anchor":"middle","frame":"group","fontSize":14,"offset":1},
"encoding":{"x":{"field":"t","type":"ordinal","scale":{"domain":["0 - 3","3 - 6","6 - 9","9 -12","12-15","15-18","18-21","21-24"],"paddingInner":0,"paddingOuter":0},"axis":{"title":"(h)","titleX":124,"titleY":10,"titleAlign":"left","titleBaseline":"middle","titleFontSize":9,"labelAngle":-45,"labelFontSize":11,"ticks":false,"labelPadding":3}}},
"layer":[
{"mark":{"type":"bar","fill":"#eeeeee","stroke":"#333","strokeWidth":0.8},"encoding":{"y":{"field":"v","type":"quantitative","scale":{"domain":[0,8],"nice":false},"axis":{"values":[0,2,4,6,8],"grid":true,"gridDash":[4,3],"gridColor":"#888","gridWidth":0.8,"zindex":1,"tickSize":4,"labelFontSize":11,"labelPadding":2,"title":"Times / (1 day * 8 subject)","titleFontSize":9.5,"titlePadding":5}}}},
{"mark":{"type":"rule","strokeWidth":0.8,"color":"#000"},"encoding":{"y":{"field":"v","type":"quantitative"},"y2":{"field":"hi"}}},
{"mark":{"type":"tick","thickness":0.8,"size":6,"color":"#000"},"encoding":{"y":{"field":"hi","type":"quantitative"}}}
]}
]},
{"title":{"text":"C","anchor":"start","frame":"group","dx":-23.7,"font":"Liberation Sans","fontSize":24,"offset":-25,"baseline":"bottom"},
"bounds":"flush","spacing":8.7,
"vconcat":[
{"width":121.7,"height":6,"data":{"name":"ldb"},"title":{"text":"HDBR","frame":"group","anchor":"middle","fontSize":14,"offset":7},
"layer":[
{"transform":[{"filter":"datum.c=='L'"}],"mark":{"type":"rect","fill":"#fff","stroke":"#000","strokeWidth":0.8},"encoding":{"x":{"field":"s","type":"quantitative","scale":{"domain":[0,24],"nice":false,"zero":false},"axis":null},"x2":{"field":"e"}}},
{"transform":[{"filter":"datum.c=='D'"}],"mark":{"type":"rect","fill":"#000"},"encoding":{"x":{"field":"s","type":"quantitative"},"x2":{"field":"e"}}}
]},
{"width":121.7,"height":105.6,"data":{"name":"bcd"},"transform":[{"filter":"datum.g=='HDBR'"}],
"encoding":{"x":{"field":"t","type":"ordinal","scale":{"domain":["0 - 3","3 - 6","6 - 9","9 -12","12-15","15-18","18-21","21-24"],"paddingInner":0,"paddingOuter":0},"axis":{"title":"(h)","titleX":124,"titleY":10,"titleAlign":"left","titleBaseline":"middle","titleFontSize":9,"labelAngle":-45,"labelFontSize":11,"ticks":false,"labelPadding":3}}},
"layer":[
{"mark":{"type":"bar","fill":"#8c8c8c","stroke":"#333","strokeWidth":0.8},"encoding":{"y":{"field":"v","type":"quantitative","scale":{"domain":[0,8],"nice":false},"axis":{"values":[0,2,4,6,8],"grid":true,"gridDash":[4,3],"gridColor":"#888","gridWidth":0.8,"zindex":1,"tickSize":4,"labelFontSize":11,"labelPadding":2,"title":null}}}},
{"mark":{"type":"rule","strokeWidth":0.8,"color":"#000"},"encoding":{"y":{"field":"v","type":"quantitative"},"y2":{"field":"hi"}}},
{"mark":{"type":"tick","thickness":0.8,"size":6,"color":"#000"},"encoding":{"y":{"field":"hi","type":"quantitative"}}}
]}
]},
{"title":{"text":"D","anchor":"start","frame":"group","dx":-24.7,"font":"Liberation Sans","fontSize":24,"offset":-25,"baseline":"bottom"},
"bounds":"flush","spacing":8.7,
"vconcat":[
{"width":121.7,"height":6,"data":{"name":"ldb"},"title":{"text":"Recovery","frame":"group","anchor":"middle","fontSize":14,"offset":7},
"layer":[
{"transform":[{"filter":"datum.c=='L'"}],"mark":{"type":"rect","fill":"#fff","stroke":"#000","strokeWidth":0.8},"encoding":{"x":{"field":"s","type":"quantitative","scale":{"domain":[0,24],"nice":false,"zero":false},"axis":null},"x2":{"field":"e"}}},
{"transform":[{"filter":"datum.c=='D'"}],"mark":{"type":"rect","fill":"#000"},"encoding":{"x":{"field":"s","type":"quantitative"},"x2":{"field":"e"}}}
]},
{"width":121.7,"height":105.6,"data":{"name":"bcd"},"transform":[{"filter":"datum.g=='Recovery'"}],
"encoding":{"x":{"field":"t","type":"ordinal","scale":{"domain":["0 - 3","3 - 6","6 - 9","9 -12","12-15","15-18","18-21","21-24"],"paddingInner":0,"paddingOuter":0},"axis":{"title":"(h)","titleX":124,"titleY":10,"titleAlign":"left","titleBaseline":"middle","titleFontSize":9,"labelAngle":-45,"labelFontSize":11,"ticks":false,"labelPadding":3}}},
"layer":[
{"mark":{"type":"bar","stroke":"#777","strokeWidth":0.8,
"fill":{"gradient":"linear","x1":0,"y1":1,"x2":1,"y2":0,"stops":[{"offset":0,"color":"#ffffff"},{"offset":0.07,"color":"#ffffff"},{"offset":0.07,"color":"#a0a0a0"},{"offset":0.1,"color":"#a0a0a0"},{"offset":0.1,"color":"#ffffff"},{"offset":0.17,"color":"#ffffff"},{"offset":0.17,"color":"#a0a0a0"},{"offset":0.2,"color":"#a0a0a0"},{"offset":0.2,"color":"#ffffff"},{"offset":0.27,"color":"#ffffff"},{"offset":0.27,"color":"#a0a0a0"},{"offset":0.3,"color":"#a0a0a0"},{"offset":0.3,"color":"#ffffff"},{"offset":0.37,"color":"#ffffff"},{"offset":0.37,"color":"#a0a0a0"},{"offset":0.4,"color":"#a0a0a0"},{"offset":0.4,"color":"#ffffff"},{"offset":0.47,"color":"#ffffff"},{"offset":0.47,"color":"#a0a0a0"},{"offset":0.5,"color":"#a0a0a0"},{"offset":0.5,"color":"#ffffff"},{"offset":0.57,"color":"#ffffff"},{"offset":0.57,"color":"#a0a0a0"},{"offset":0.6,"color":"#a0a0a0"},{"offset":0.6,"color":"#ffffff"},{"offset":0.67,"color":"#ffffff"},{"offset":0.67,"color":"#a0a0a0"},{"offset":0.7,"color":"#a0a0a0"},{"offset":0.7,"color":"#ffffff"},{"offset":0.77,"color":"#ffffff"},{"offset":0.77,"color":"#a0a0a0"},{"offset":0.8,"color":"#a0a0a0"},{"offset":0.8,"color":"#ffffff"},{"offset":0.87,"color":"#ffffff"},{"offset":0.87,"color":"#a0a0a0"},{"offset":0.9,"color":"#a0a0a0"},{"offset":0.9,"color":"#ffffff"},{"offset":1,"color":"#ffffff"}]}},
"encoding":{"y":{"field":"v","type":"quantitative","scale":{"domain":[0,8],"nice":false},"axis":{"values":[0,2,4,6,8],"grid":true,"gridDash":[4,3],"gridColor":"#888","gridWidth":0.8,"zindex":1,"tickSize":4,"labelFontSize":11,"labelPadding":2,"title":null}}}},
{"mark":{"type":"rule","strokeWidth":0.8,"color":"#000"},"encoding":{"y":{"field":"v","type":"quantitative"},"y2":{"field":"hi"}}},
{"mark":{"type":"tick","thickness":0.8,"size":6,"color":"#000"},"encoding":{"y":{"field":"hi","type":"quantitative"}}}
]}
]}
]
},
{
"spacing":16,
"hconcat":[
{"title":{"text":"E","anchor":"start","frame":"group","dx":-46,"font":"Liberation Sans","fontSize":20,"offset":-17,"baseline":"bottom"},
"vconcat":[
{"width":121.4,"height":119,"view":{"stroke":"#000","strokeWidth":1},
"title":{"text":"Control","subtitle":"Period at peak=23.8 h","fontSize":15,"subtitleFontSize":13,"frame":"group","anchor":"middle","offset":4,"subtitlePadding":4},
"layer":[
{"data":{"name":"psd"},"transform":[{"filter":"datum.g=='E'"}],"mark":{"type":"line","color":"#e0282e","strokeWidth":0.8,"clip":true},
"encoding":{"x":{"field":"f","type":"quantitative","scale":{"domain":[0.03028,0.05653],"nice":false,"zero":false},"axis":{"values":[0.035,0.04,0.045,0.05,0.055],"labelExpr":"indexof(['0.035','0.045','0.055'], format(datum.value,'.3f')) >= 0 ? format(datum.value,'.3f') : ''","title":"Frequency [1/h]","titleFontSize":14,"labelFontSize":12,"tickSize":4,"labelPadding":4,"domain":false,"titlePadding":2,"labelFlush":false}},
"y":{"field":"v","type":"quantitative","scale":{"domain":[-1,26],"nice":false,"zero":false},"axis":{"values":[0,5,10,15,20,25],"labelExpr":"datum.value==10||datum.value==20?'':datum.label","title":["Normalized power","spectral density"],"titleFontSize":14,"titleLineHeight":12,"labelFontSize":11,"tickSize":4,"labelPadding":2,"domain":false,"titlePadding":2}}}},
{"data":{"name":"psd"},"transform":[{"filter":"datum.g=='E'"}],"mark":{"type":"point","shape":"circle","size":36,"filled":false,"color":"#e0282e","strokeWidth":1,"clip":true,"opacity":1},"encoding":{"x":{"field":"f","type":"quantitative"},"y":{"field":"v","type":"quantitative"}}},
{"data":{"name":"pl"},"transform":[{"filter":"datum.g=='E'"}],"mark":{"type":"rule","strokeDash":[1.5,1.5],"color":"#999","strokeWidth":0.8},"encoding":{"y":{"field":"y","type":"quantitative"}}},
{"data":{"name":"pl"},"transform":[{"filter":"datum.g=='E'"}],"mark":{"type":"text","align":"right","baseline":"middle","dx":-8,"dy":-1,"fontSize":7.5,"font":"Liberation Sans","color":"#aaa"},"encoding":{"x":{"datum":0.05653,"type":"quantitative"},"y":{"field":"y","type":"quantitative"},"text":{"field":"lab"}}},
{"data":{"values":[{}]},"mark":{"type":"text","align":"left","baseline":"middle","dx":4,"fontSize":14,"fontStyle":"italic","text":"P"},"encoding":{"x":{"datum":0.03028,"type":"quantitative"},"y":{"datum":23.5,"type":"quantitative"}}},
{"data":{"values":[{}]},"mark":{"type":"text","align":"left","baseline":"middle","dx":14,"fontSize":14,"text":"= 0.00183"},"encoding":{"x":{"datum":0.03028,"type":"quantitative"},"y":{"datum":23.5,"type":"quantitative"}}}
]}
]},
{"title":{"text":"F","anchor":"start","frame":"group","dx":-25,"font":"Liberation Sans","fontSize":20,"offset":-17,"baseline":"bottom"},
"vconcat":[
{"width":121.4,"height":119,"view":{"stroke":"#000","strokeWidth":1},
"title":{"text":"HDBR","subtitle":"Period at peaks: 24 h","fontSize":15,"subtitleFontSize":13,"frame":"group","anchor":"middle","offset":4,"subtitlePadding":4},
"layer":[
{"data":{"name":"psd"},"transform":[{"filter":"datum.g=='F'"}],"mark":{"type":"line","color":"#e0282e","strokeWidth":0.8,"clip":true},
"encoding":{"x":{"field":"f","type":"quantitative","scale":{"domain":[0.03028,0.05653],"nice":false,"zero":false},"axis":{"values":[0.035,0.04,0.045,0.05,0.055],"labelExpr":"indexof(['0.035','0.045','0.055'], format(datum.value,'.3f')) >= 0 ? format(datum.value,'.3f') : ''","title":"Frequency [1/h]","titleFontSize":14,"labelFontSize":12,"tickSize":4,"labelPadding":4,"domain":false,"titlePadding":2,"labelFlush":false}},
"y":{"field":"v","type":"quantitative","scale":{"domain":[-1,26],"nice":false,"zero":false},"axis":{"values":[0,5,10,15,20,25],"labelExpr":"datum.value==10||datum.value==20?'':datum.label","title":null,"labelFontSize":11,"tickSize":4,"labelPadding":2,"domain":false}}}},
{"data":{"name":"psd"},"transform":[{"filter":"datum.g=='F'"}],"mark":{"type":"point","shape":"circle","size":36,"filled":false,"color":"#e0282e","strokeWidth":1,"clip":true,"opacity":1},"encoding":{"x":{"field":"f","type":"quantitative"},"y":{"field":"v","type":"quantitative"}}},
{"data":{"name":"pl"},"transform":[{"filter":"datum.g=='F'"}],"mark":{"type":"rule","strokeDash":[1.5,1.5],"color":"#999","strokeWidth":0.8},"encoding":{"y":{"field":"y","type":"quantitative"}}},
{"data":{"name":"pl"},"transform":[{"filter":"datum.g=='F'"}],"mark":{"type":"text","align":"right","baseline":"middle","dx":-8,"dy":-1,"fontSize":7.5,"font":"Liberation Sans","color":"#aaa"},"encoding":{"x":{"datum":0.05653,"type":"quantitative"},"y":{"field":"y","type":"quantitative"},"text":{"field":"lab"}}},
{"data":{"values":[{}]},"mark":{"type":"text","align":"left","baseline":"middle","dx":4,"fontSize":14,"fontStyle":"italic","text":"P"},"encoding":{"x":{"datum":0.03028,"type":"quantitative"},"y":{"datum":23.5,"type":"quantitative"}}},
{"data":{"values":[{}]},"mark":{"type":"text","align":"left","baseline":"middle","dx":14,"fontSize":14,"text":"= 0"},"encoding":{"x":{"datum":0.03028,"type":"quantitative"},"y":{"datum":23.5,"type":"quantitative"}}}
]}
]},
{"title":{"text":"G","anchor":"start","frame":"group","dx":-25,"font":"Liberation Sans","fontSize":20,"offset":-17,"baseline":"bottom"},
"vconcat":[
{"width":121.4,"height":119,"view":{"stroke":"#000","strokeWidth":1},
"title":{"text":"Recovery","subtitle":"Period at peak=24.1 h","fontSize":15,"subtitleFontSize":13,"frame":"group","anchor":"middle","offset":4,"subtitlePadding":4},
"layer":[
{"data":{"name":"psd"},"transform":[{"filter":"datum.g=='G'"}],"mark":{"type":"line","color":"#e0282e","strokeWidth":0.8,"clip":true},
"encoding":{"x":{"field":"f","type":"quantitative","scale":{"domain":[0.03028,0.05653],"nice":false,"zero":false},"axis":{"values":[0.035,0.04,0.045,0.05,0.055],"labelExpr":"indexof(['0.035','0.045','0.055'], format(datum.value,'.3f')) >= 0 ? format(datum.value,'.3f') : ''","title":"Frequency [1/h]","titleFontSize":14,"labelFontSize":12,"tickSize":4,"labelPadding":4,"domain":false,"titlePadding":2,"labelFlush":false}},
"y":{"field":"v","type":"quantitative","scale":{"domain":[-1,26],"nice":false,"zero":false},"axis":{"values":[0,5,10,15,20,25],"labelExpr":"datum.value==10||datum.value==20?'':datum.label","title":null,"labelFontSize":11,"tickSize":4,"labelPadding":2,"domain":false}}}},
{"data":{"name":"psd"},"transform":[{"filter":"datum.g=='G'"}],"mark":{"type":"point","shape":"circle","size":36,"filled":false,"color":"#e0282e","strokeWidth":1,"clip":true,"opacity":1},"encoding":{"x":{"field":"f","type":"quantitative"},"y":{"field":"v","type":"quantitative"}}},
{"data":{"name":"pl"},"transform":[{"filter":"datum.g=='G'"}],"mark":{"type":"rule","strokeDash":[1.5,1.5],"color":"#999","strokeWidth":0.8},"encoding":{"y":{"field":"y","type":"quantitative"}}},
{"data":{"name":"pl"},"transform":[{"filter":"datum.g=='G'"}],"mark":{"type":"text","align":"right","baseline":"middle","dx":-8,"dy":-1,"fontSize":7.5,"font":"Liberation Sans","color":"#aaa"},"encoding":{"x":{"datum":0.05653,"type":"quantitative"},"y":{"field":"y","type":"quantitative"},"text":{"field":"lab"}}},
{"data":{"values":[{}]},"mark":{"type":"text","align":"left","baseline":"middle","dx":4,"fontSize":14,"fontStyle":"italic","text":"P"},"encoding":{"x":{"datum":0.03028,"type":"quantitative"},"y":{"datum":23.5,"type":"quantitative"}}},
{"data":{"values":[{}]},"mark":{"type":"text","align":"left","baseline":"middle","dx":14,"fontSize":14,"text":"= 0.00196"},"encoding":{"x":{"datum":0.03028,"type":"quantitative"},"y":{"datum":23.5,"type":"quantitative"}}}
]}
]}
]
}
]
}
]
}
